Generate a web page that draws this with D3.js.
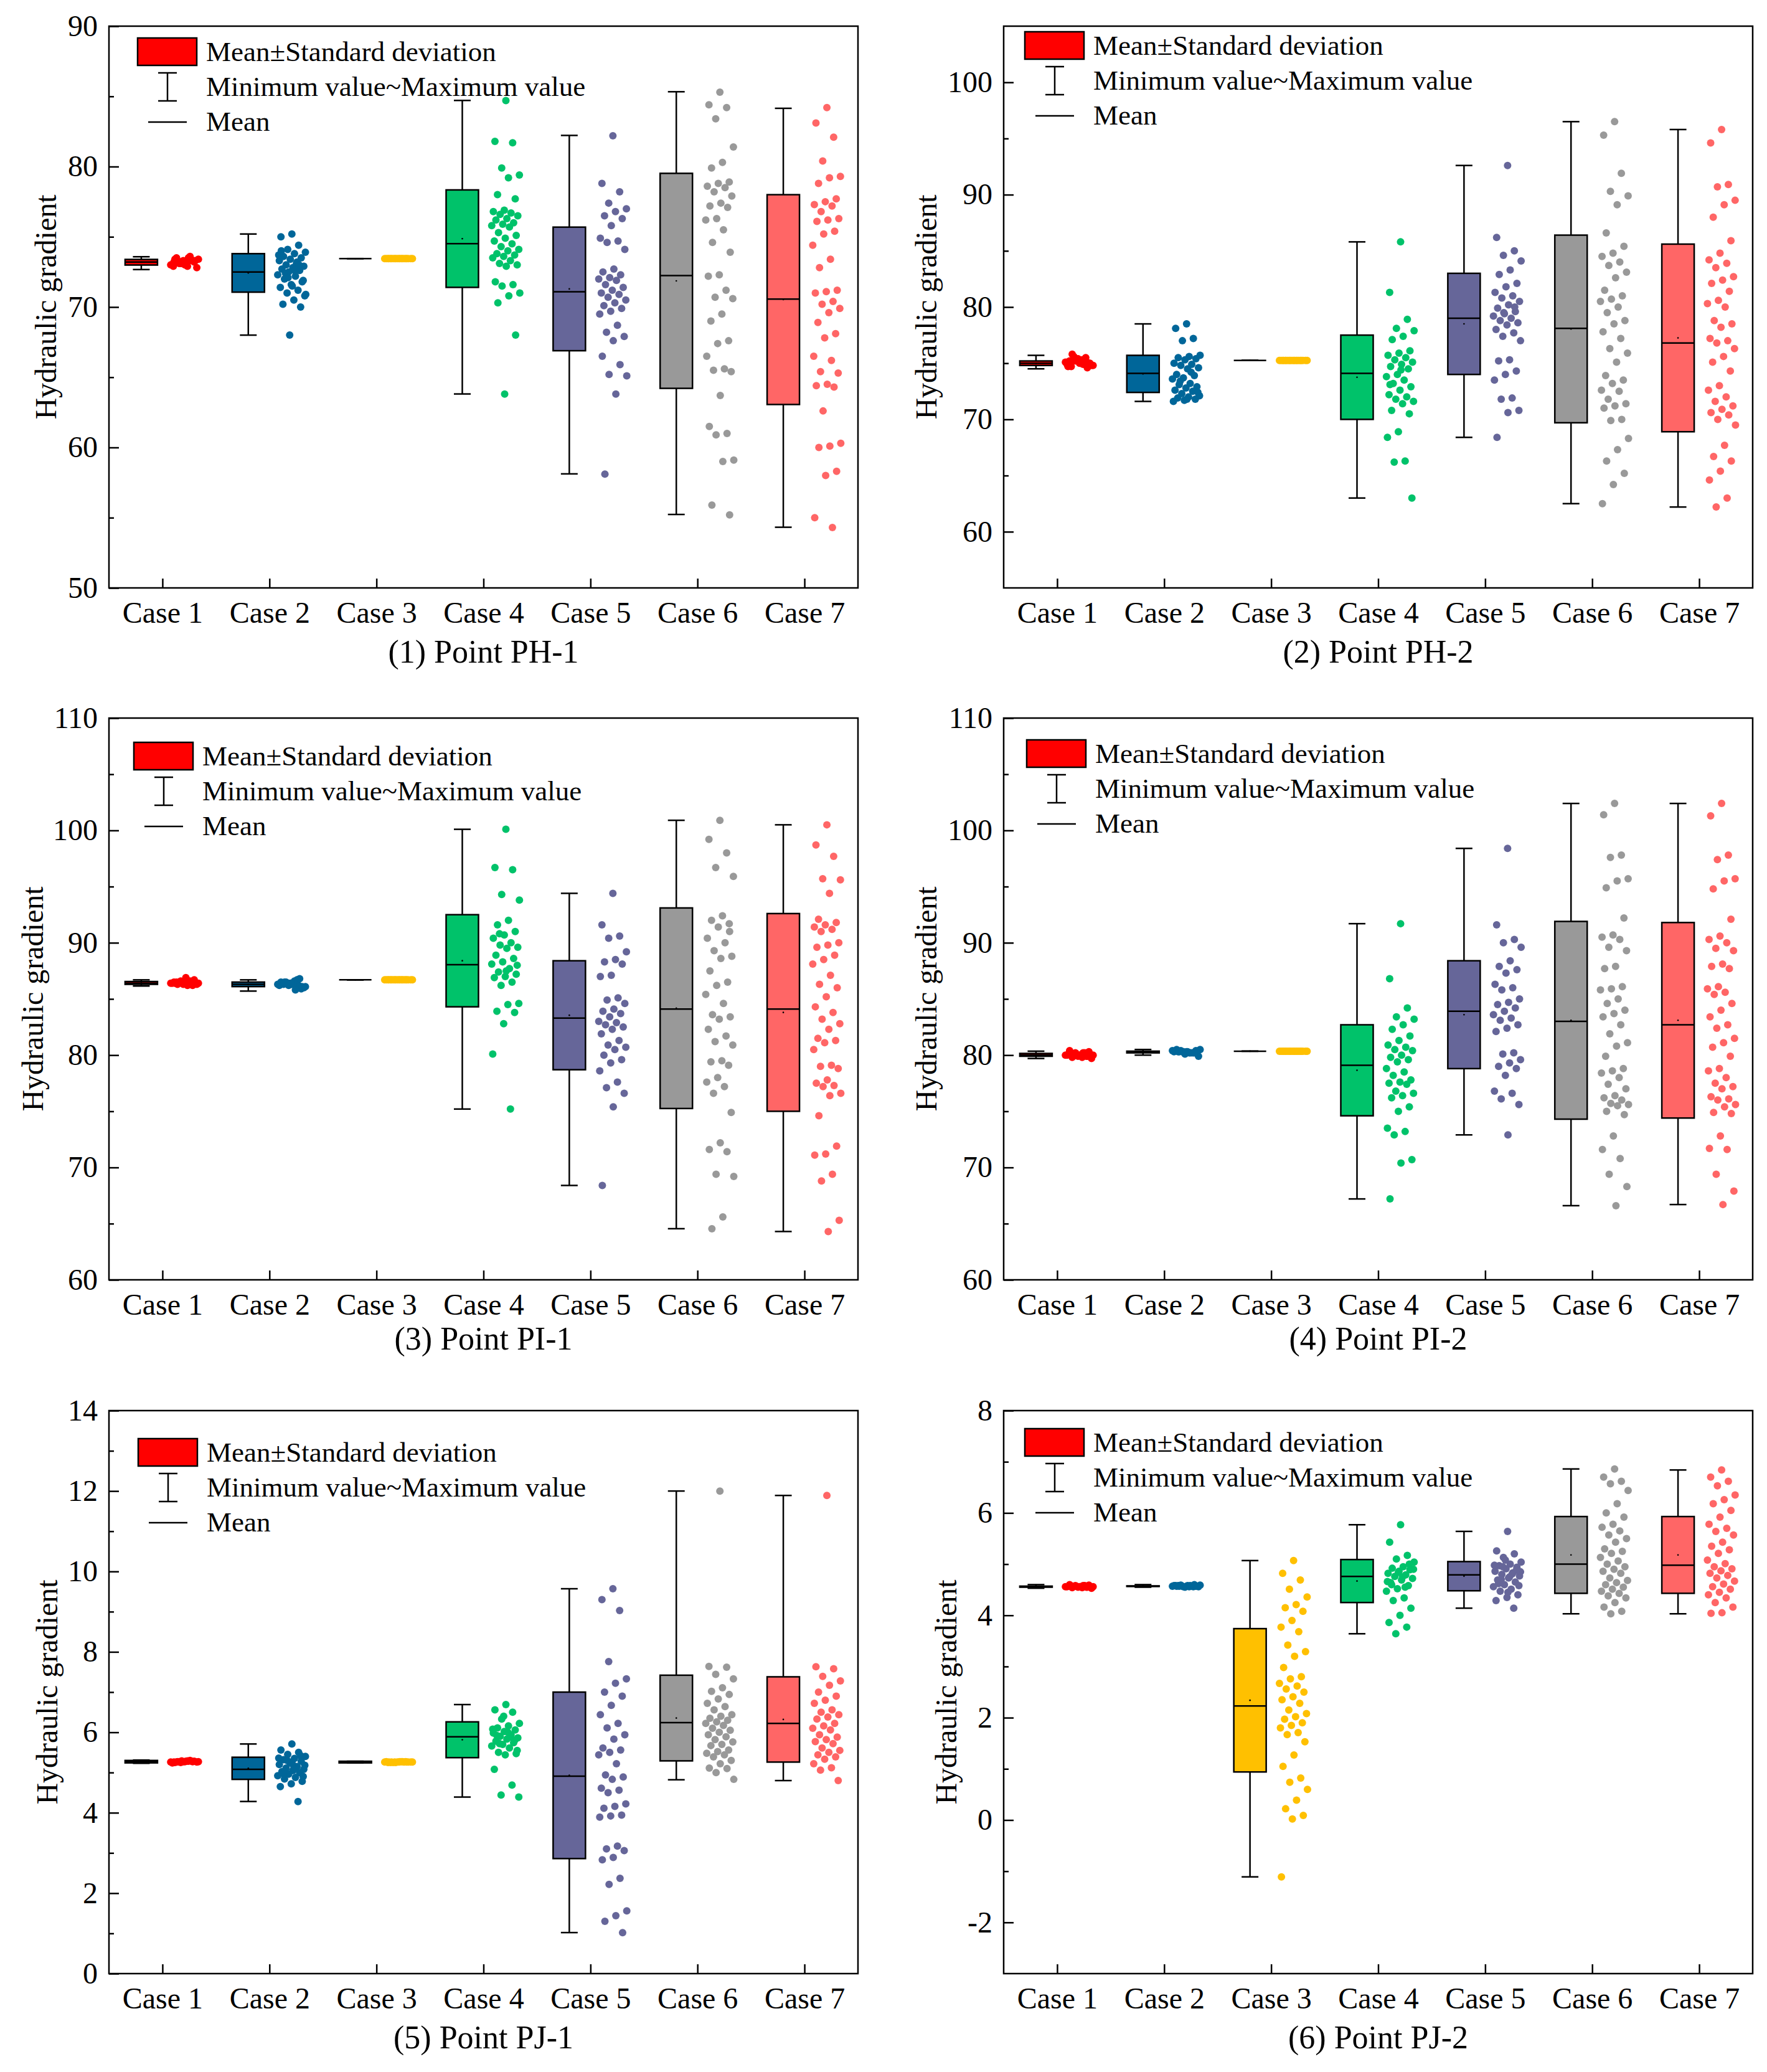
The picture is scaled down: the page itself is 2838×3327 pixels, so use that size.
<!DOCTYPE html>
<html>
<head>
<meta charset="utf-8">
<script src="https://cdn.jsdelivr.net/npm/d3@7"></script>
<style>
  body { margin: 0; background: #fff; }
  text { font-family: "Liberation Serif", "Times New Roman", serif; }
</style>
</head>
<body>
<script>
const cases = ["Case 1", "Case 2", "Case 3", "Case 4", "Case 5", "Case 6", "Case 7"];
const caseColors = ["#FF0000", "#006699", "#FFC000", "#00C26A", "#666699", "#999999", "#FF6666"];
const legendLabels = ["Mean\u00B1Standard deviation", "Minimum value~Maximum value", "Mean"];
const titles = ["(1) Point PH-1", "(2) Point PH-2", "(3) Point PI-1", "(4) Point PI-2", "(5) Point PJ-1", "(6) Point PJ-2"];
const yTitle = "Hydraulic gradient";

// (1) PH-1
const ph1Domain = [50, 90];
const ph1Ticks = [50, 60, 70, 80, 90];
const ph1Minor = [55, 65, 75, 85];
const ph1Low = [72.99, 71.06, 73.45, 71.4, 66.89, 64.21, 63.06];
const ph1High = [73.39, 73.8, 73.45, 78.34, 75.69, 79.52, 78.0];
const ph1Mid = [73.2, 72.5, 73.45, 74.51, 71.09, 72.24, 70.56];
const ph1Min = [72.67, 68.0, 73.45, 63.81, 58.12, 55.23, 54.32];
const ph1Max = [73.58, 75.2, 73.45, 84.71, 82.22, 85.33, 84.15];
const ph1Points = [
  [73.0, 73.2, 73.3, 73.1, 73.4, 72.9, 73.5, 73.2, 73.3, 73.0, 73.6, 73.1, 72.8, 73.2, 73.4, 73.3, 73.1, 73.0, 73.5, 73.2, 73.3, 73.1, 72.9, 73.4, 73.2],
  [75.2, 75.0, 74.4, 74.1, 73.9, 73.8, 73.6, 73.5, 73.4, 73.3, 73.2, 73.0, 72.9, 72.8, 72.7, 72.6, 72.5, 72.3, 72.2, 72.0, 71.8, 71.6, 71.4, 71.2, 71.0, 70.8, 70.5, 70.2, 70.0, 68.0, 73.7, 73.1, 72.4, 71.9, 71.5, 74.0, 73.0, 72.1, 70.9, 72.6],
  [73.45, 73.45, 73.45, 73.45, 73.45, 73.45, 73.45, 73.45, 73.45, 73.45, 73.45, 73.45, 73.45, 73.45, 73.45, 73.45, 73.45, 73.45, 73.45, 73.45],
  [84.7, 81.8, 81.7, 79.9, 79.4, 79.2, 78.0, 77.7, 76.9, 76.8, 76.7, 76.6, 76.5, 76.3, 76.2, 76.0, 75.9, 75.8, 75.7, 75.3, 75.1, 74.9, 74.7, 74.5, 74.3, 74.1, 74.0, 73.8, 73.7, 73.6, 73.5, 73.3, 73.1, 73.0, 72.9, 71.8, 71.6, 71.5, 71.0, 70.8, 70.3, 68.0, 63.8],
  [82.2, 78.8, 78.2, 77.4, 77.0, 76.8, 76.5, 76.3, 75.8, 74.9, 74.7, 74.6, 74.1, 72.7, 72.5, 72.3, 72.1, 72.0, 71.9, 71.6, 71.4, 71.2, 71.0, 70.9, 70.7, 70.5, 70.3, 70.1, 69.9, 69.7, 69.5, 68.7, 68.2, 67.9, 67.6, 66.5, 65.9, 65.2, 65.1, 63.8, 58.1],
  [85.3, 84.4, 84.2, 83.4, 81.4, 80.3, 79.9, 78.9, 78.8, 78.6, 78.5, 78.2, 77.9, 77.4, 77.2, 77.1, 76.3, 76.2, 75.5, 74.6, 73.9, 72.3, 72.2, 71.2, 70.7, 70.6, 69.5, 69.0, 67.6, 67.4, 66.5, 65.6, 65.5, 65.4, 63.7, 61.5, 61.0, 60.9, 59.1, 59.0, 55.9, 55.2],
  [84.2, 83.1, 82.1, 80.4, 79.3, 79.2, 78.8, 77.7, 77.5, 77.3, 77.2, 76.8, 76.3, 76.2, 76.1, 75.4, 75.2, 74.4, 73.4, 72.8, 71.2, 71.1, 71.0, 70.4, 70.2, 69.9, 69.6, 68.9, 68.1, 67.8, 66.5, 66.2, 65.4, 65.3, 64.5, 64.4, 64.3, 62.6, 60.3, 60.1, 60.0, 58.3, 58.0, 55.0, 54.3]
];

// (2) PH-2
const ph2Domain = [55, 105];
const ph2Ticks = [60, 70, 80, 90, 100];
const ph2Minor = [65, 75, 85, 95];
const ph2Low = [74.8, 72.4, 75.25, 70.0, 74.0, 69.7, 68.9];
const ph2High = [75.2, 75.7, 75.25, 77.5, 83.0, 86.4, 85.6];
const ph2Mid = [75.0, 74.1, 75.25, 74.1, 79.0, 78.1, 76.8];
const ph2Min = [74.5, 71.6, 75.25, 63.0, 68.4, 62.5, 62.2];
const ph2Max = [75.7, 78.5, 75.25, 85.8, 92.6, 96.5, 95.8];
const ph2Points = [
  [75.0, 74.9, 75.1, 75.2, 74.8, 75.3, 74.7, 75.0, 75.4, 74.9, 75.1, 75.6, 74.8, 75.0, 75.2, 74.6, 75.3, 75.1, 74.9, 75.8, 75.0, 75.2, 74.7, 75.5],
  [78.5, 78.1, 77.2, 77.0, 75.7, 75.6, 75.5, 75.4, 75.3, 75.0, 74.9, 74.8, 74.6, 74.5, 74.0, 73.9, 73.7, 73.6, 73.2, 73.1, 72.9, 72.8, 72.6, 72.5, 72.3, 72.1, 72.0, 71.9, 71.8, 71.7, 71.6, 74.2, 73.4, 72.4, 71.8],
  [75.25, 75.25, 75.25, 75.25, 75.25, 75.25, 75.25, 75.25, 75.25, 75.25, 75.25, 75.25, 75.25, 75.25, 75.25, 75.25, 75.25, 75.25, 75.25, 75.25],
  [85.8, 81.3, 78.9, 78.1, 77.9, 77.4, 77.1, 76.1, 75.9, 75.7, 75.5, 75.3, 75.1, 74.9, 74.7, 74.5, 74.0, 73.8, 73.5, 73.2, 72.9, 72.6, 72.2, 72.0, 71.8, 71.6, 71.4, 70.8, 70.5, 68.9, 68.4, 66.3, 66.2, 63.0, 74.4, 73.1],
  [92.6, 86.2, 85.0, 84.6, 84.1, 83.3, 82.9, 82.1, 81.8, 81.3, 81.0, 80.8, 80.5, 80.2, 79.9, 79.6, 79.4, 79.2, 79.0, 78.8, 78.6, 78.4, 78.0, 77.7, 77.4, 77.0, 75.3, 75.2, 74.3, 74.0, 73.5, 71.9, 71.8, 70.8, 70.6, 68.4, 80.0, 79.5],
  [96.5, 95.3, 91.9, 90.3, 89.9, 89.1, 86.6, 85.4, 84.8, 84.5, 84.0, 83.7, 83.1, 82.6, 81.5, 81.0, 80.7, 80.5, 80.0, 79.5, 78.8, 78.5, 77.8, 77.2, 76.3, 75.9, 75.1, 73.9, 73.5, 73.2, 72.6, 72.5, 71.8, 71.4, 71.2, 71.0, 70.0, 69.9, 68.3, 67.3, 66.3, 65.2, 64.2, 62.5],
  [95.8, 94.6, 90.9, 90.7, 89.5, 89.1, 88.0, 85.9, 84.8, 84.2, 83.9, 83.5, 82.7, 82.4, 82.1, 81.4, 80.6, 80.3, 80.0, 78.8, 78.5, 78.2, 77.2, 77.0, 76.8, 76.3, 75.6, 75.1, 74.3, 73.0, 72.6, 72.0, 71.6, 71.2, 70.9, 70.6, 70.4, 70.0, 69.5, 67.7, 66.7, 66.3, 65.4, 64.6, 63.0, 62.2]
];

// (3) PI-1
const pi1Domain = [60, 110];
const pi1Ticks = [60, 70, 80, 90, 100, 110];
const pi1Minor = [65, 75, 85, 95, 105];
const pi1Low = [86.3, 86.1, 86.7, 84.3, 78.7, 75.25, 75.0];
const pi1High = [86.55, 86.5, 86.7, 92.5, 88.4, 93.1, 92.6];
const pi1Mid = [86.4, 86.3, 86.7, 88.05, 83.3, 84.1, 84.1];
const pi1Min = [86.15, 85.7, 86.7, 75.2, 68.4, 64.55, 64.3];
const pi1Max = [86.7, 86.7, 86.7, 100.1, 94.4, 100.9, 100.5];
const pi1Points = [
  [86.4, 86.5, 86.3, 86.6, 86.4, 86.2, 86.5, 86.7, 86.3, 86.4, 86.6, 86.5, 86.3, 86.9, 86.4, 86.2, 86.5, 86.4, 86.6, 86.3],
  [86.3, 86.5, 86.2, 86.4, 86.1, 86.6, 86.3, 85.9, 86.4, 86.2, 86.7, 86.5, 86.0, 86.3, 86.4, 86.8, 86.2, 86.3, 85.8, 86.5, 86.1, 86.4],
  [86.7, 86.7, 86.7, 86.7, 86.7, 86.7, 86.7, 86.7, 86.7, 86.7, 86.7, 86.7, 86.7, 86.7, 86.7, 86.7, 86.7, 86.7, 86.7, 86.7],
  [100.1, 96.7, 96.5, 94.3, 93.8, 92.0, 91.6, 91.0, 90.7, 90.4, 90.0, 89.8, 89.6, 89.5, 88.9, 88.6, 88.3, 88.1, 87.7, 87.4, 87.2, 87.0, 86.9, 86.5, 86.2, 84.6, 84.5, 83.9, 83.8, 82.8, 80.1, 75.2, 90.8, 88.0, 87.5],
  [94.4, 91.6, 90.6, 90.4, 89.2, 88.5, 88.3, 88.1, 87.1, 87.0, 85.1, 84.9, 84.6, 84.1, 83.9, 83.7, 83.4, 83.0, 82.9, 82.7, 82.5, 82.3, 81.9, 81.3, 80.9, 80.7, 80.5, 80.0, 79.6, 79.3, 78.6, 77.6, 77.1, 76.6, 75.4, 68.4],
  [100.9, 99.2, 98.0, 96.7, 95.9, 92.4, 92.0, 91.7, 91.4, 90.4, 90.0, 89.3, 88.8, 88.6, 87.5, 86.5, 86.2, 85.4, 84.6, 83.6, 83.4, 83.2, 82.3, 81.7, 81.2, 80.9, 79.5, 79.4, 79.1, 78.0, 77.6, 77.2, 76.6, 74.9, 72.2, 71.6, 71.4, 69.4, 69.2, 65.6, 64.55, 91.0],
  [100.5, 98.7, 97.7, 95.7, 95.6, 94.4, 92.1, 91.8, 91.6, 91.4, 91.2, 91.0, 90.0, 89.8, 89.6, 88.9, 88.5, 88.1, 87.1, 86.3, 86.0, 85.2, 84.3, 83.8, 83.2, 82.8, 82.3, 81.5, 81.3, 81.1, 80.5, 79.1, 79.0, 78.8, 77.8, 77.5, 77.3, 77.2, 76.6, 76.4, 74.6, 71.9, 71.2, 71.1, 69.4, 68.8, 65.3, 64.3]
];

// (4) PI-2
const pi2Domain = [60, 110];
const pi2Ticks = [60, 70, 80, 90, 100, 110];
const pi2Minor = [65, 75, 85, 95, 105];
const pi2Low = [79.9, 80.2, 80.35, 74.6, 78.8, 74.3, 74.4];
const pi2High = [80.15, 80.35, 80.35, 82.7, 88.4, 91.9, 91.8];
const pi2Mid = [80.0, 80.25, 80.35, 79.1, 83.9, 83.0, 82.7];
const pi2Min = [79.7, 80.0, 80.35, 67.2, 72.9, 66.6, 66.7];
const pi2Max = [80.35, 80.5, 80.35, 91.7, 98.4, 102.4, 102.4];
const pi2Points = [
  [80.0, 80.1, 79.9, 80.2, 80.0, 79.8, 80.1, 80.3, 79.9, 80.0, 80.2, 80.1, 79.7, 80.0, 80.4, 79.9, 80.1, 80.0, 80.2, 79.8],
  [80.3, 80.4, 80.2, 80.3, 80.5, 80.2, 80.3, 80.4, 80.1, 80.3, 80.2, 80.4, 79.9, 80.3, 80.5, 80.2, 80.3, 80.4, 80.2, 80.3],
  [80.35, 80.35, 80.35, 80.35, 80.35, 80.35, 80.35, 80.35, 80.35, 80.35, 80.35, 80.35, 80.35, 80.35, 80.35, 80.35, 80.35, 80.35, 80.35, 80.35],
  [91.7, 86.8, 84.2, 83.4, 83.2, 82.7, 82.3, 81.7, 81.3, 80.9, 80.7, 80.5, 80.4, 80.0, 79.8, 79.6, 79.4, 78.8, 78.5, 78.2, 77.8, 77.6, 77.5, 77.4, 76.8, 76.6, 76.4, 76.2, 75.4, 75.0, 73.5, 73.2, 72.9, 70.7, 70.4, 67.2],
  [98.4, 91.6, 90.3, 90.0, 89.6, 88.4, 87.9, 87.6, 87.3, 86.3, 86.0, 85.8, 85.0, 84.7, 84.5, 84.2, 83.9, 83.6, 83.3, 83.1, 82.7, 82.4, 82.1, 80.2, 80.1, 79.6, 79.3, 79.0, 78.8, 78.2, 76.8, 76.6, 76.1, 75.6, 72.9],
  [102.4, 101.4, 97.8, 97.6, 95.7, 95.5, 94.9, 92.2, 90.7, 90.5, 90.3, 89.6, 89.3, 87.9, 87.7, 86.1, 85.9, 85.8, 85.0, 84.6, 84.0, 83.7, 83.4, 82.7, 81.9, 81.1, 80.8, 79.9, 78.8, 78.6, 78.4, 78.0, 77.4, 77.0, 76.4, 76.2, 76.0, 75.7, 75.6, 75.5, 75.0, 74.7, 72.8, 71.6, 70.8, 69.4, 68.3, 66.6],
  [102.4, 101.3, 97.8, 97.4, 95.7, 95.5, 94.8, 92.1, 90.6, 90.3, 90.0, 89.5, 89.3, 88.1, 87.9, 87.7, 86.1, 85.9, 85.6, 85.4, 84.6, 84.0, 83.4, 82.7, 82.4, 81.5, 81.1, 80.7, 79.9, 78.8, 78.6, 78.0, 77.5, 77.2, 77.0, 76.3, 76.1, 76.0, 75.6, 75.4, 74.9, 74.8, 72.8, 71.7, 71.6, 69.4, 67.9, 66.7]
];

// (5) PJ-1
const pj1Domain = [0, 14];
const pj1Ticks = [0, 2, 4, 6, 8, 10, 12, 14];
const pj1Minor = [1, 3, 5, 7, 9, 11, 13];
const pj1Low = [5.24, 4.83, 5.24, 5.37, 2.86, 5.29, 5.26];
const pj1High = [5.30, 5.38, 5.28, 6.26, 7.0, 7.42, 7.38];
const pj1Mid = [5.27, 5.08, 5.26, 5.89, 4.91, 6.24, 6.22];
const pj1Min = [5.23, 4.28, 5.24, 4.39, 1.02, 4.82, 4.80];
const pj1Max = [5.31, 5.71, 5.28, 6.69, 9.57, 12.0, 11.89];
const pj1Points = [
  [5.27, 5.26, 5.28, 5.25, 5.27, 5.29, 5.26, 5.28, 5.27, 5.24, 5.30, 5.27, 5.26, 5.28, 5.25, 5.27, 5.29, 5.26, 5.28, 5.27],
  [5.71, 5.56, 5.50, 5.45, 5.40, 5.35, 5.32, 5.28, 5.24, 5.20, 5.15, 5.11, 5.08, 5.05, 5.02, 5.00, 4.96, 4.92, 4.88, 4.84, 4.78, 4.72, 4.65, 4.28, 5.30, 5.18, 5.10, 4.98, 5.42, 5.26, 5.36, 5.13, 5.06, 4.90, 5.22],
  [5.26, 5.25, 5.27, 5.26, 5.26, 5.27, 5.25, 5.26, 5.26, 5.27, 5.26, 5.25, 5.26, 5.27, 5.26, 5.26, 5.25, 5.26, 5.27, 5.26],
  [6.69, 6.56, 6.50, 6.33, 6.22, 6.16, 6.11, 6.06, 6.02, 5.98, 5.94, 5.90, 5.86, 5.83, 5.78, 5.74, 5.70, 5.66, 5.61, 5.50, 5.47, 5.44, 5.08, 4.69, 4.44, 4.39, 6.00, 5.92, 5.80, 6.40, 6.08, 5.88, 5.72, 5.55],
  [9.57, 9.30, 9.03, 7.76, 7.33, 7.22, 7.00, 6.90, 6.67, 6.44, 6.22, 6.11, 5.94, 5.83, 5.61, 5.56, 5.50, 5.44, 5.22, 4.94, 4.89, 4.83, 4.61, 4.56, 4.50, 4.22, 4.16, 4.11, 3.94, 3.92, 3.89, 3.17, 3.10, 3.06, 2.89, 2.83, 2.37, 2.22, 1.56, 1.44, 1.30, 1.02],
  [12.0, 7.64, 7.62, 7.44, 7.33, 7.11, 7.02, 6.94, 6.83, 6.72, 6.64, 6.56, 6.44, 6.40, 6.35, 6.30, 6.26, 6.22, 6.17, 6.10, 6.05, 6.00, 5.94, 5.89, 5.82, 5.76, 5.70, 5.67, 5.56, 5.52, 5.48, 5.44, 5.39, 5.30, 5.22, 5.11, 5.10, 5.00, 4.83],
  [11.89, 7.63, 7.58, 7.39, 7.28, 7.17, 7.00, 6.90, 6.80, 6.72, 6.56, 6.50, 6.44, 6.38, 6.33, 6.22, 6.16, 6.10, 6.06, 5.94, 5.88, 5.82, 5.77, 5.72, 5.61, 5.55, 5.50, 5.44, 5.39, 5.33, 5.22, 5.12, 5.06, 4.80]
];

// (6) PJ-2
const pj2Domain = [-3, 8];
const pj2Ticks = [-2, 0, 2, 4, 6, 8];
const pj2Minor = [-1, 1, 3, 5, 7];
const pj2Low = [4.55, 4.565, 0.94, 4.25, 4.48, 4.43, 4.43];
const pj2High = [4.57, 4.575, 3.74, 5.09, 5.05, 5.93, 5.93];
const pj2Mid = [4.56, 4.57, 2.23, 4.76, 4.79, 5.0, 4.98];
const pj2Min = [4.53, 4.55, -1.11, 3.64, 4.14, 4.03, 4.03];
const pj2Max = [4.60, 4.60, 5.07, 5.77, 5.64, 6.86, 6.84];
const pj2Points = [
  [4.56, 4.57, 4.55, 4.58, 4.56, 4.54, 4.57, 4.59, 4.55, 4.56, 4.58, 4.57, 4.53, 4.56, 4.60, 4.55, 4.57, 4.56, 4.58, 4.54],
  [4.57, 4.58, 4.56, 4.57, 4.59, 4.56, 4.58, 4.57, 4.55, 4.58, 4.57, 4.59, 4.56, 4.58, 4.57, 4.60, 4.56, 4.57, 4.58, 4.57],
  [5.07, 4.82, 4.69, 4.51, 4.36, 4.21, 4.15, 4.08, 3.90, 3.77, 3.68, 3.42, 3.29, 3.20, 2.98, 2.80, 2.76, 2.67, 2.62, 2.56, 2.50, 2.41, 2.35, 2.28, 2.15, 2.08, 2.02, 1.97, 1.90, 1.85, 1.80, 1.71, 1.67, 1.53, 1.27, 1.05, 0.82, 0.74, 0.60, 0.39, 0.22, 0.09, 0.02, -1.11],
  [5.77, 5.43, 5.17, 5.10, 5.04, 4.95, 4.92, 4.89, 4.86, 4.82, 4.79, 4.76, 4.72, 4.69, 4.64, 4.58, 4.52, 4.47, 4.34, 4.29, 4.14, 4.00, 3.86, 3.77, 3.64, 4.90, 4.75, 4.60, 5.00, 4.84, 4.66, 4.55],
  [5.64, 5.26, 5.20, 5.13, 5.04, 5.00, 4.97, 4.94, 4.91, 4.86, 4.83, 4.80, 4.77, 4.73, 4.69, 4.65, 4.60, 4.56, 4.51, 4.47, 4.40, 4.35, 4.29, 4.14, 4.95, 4.85, 4.75, 4.62, 4.88, 5.08, 4.98, 4.81, 4.70, 4.58, 4.45],
  [6.86, 6.70, 6.62, 6.57, 6.44, 6.18, 6.00, 5.92, 5.78, 5.72, 5.65, 5.57, 5.50, 5.43, 5.30, 5.25, 5.21, 5.13, 5.06, 5.00, 4.95, 4.90, 4.86, 4.82, 4.73, 4.68, 4.64, 4.60, 4.55, 4.51, 4.47, 4.43, 4.38, 4.34, 4.25, 4.16, 4.08, 4.03],
  [6.84, 6.70, 6.62, 6.53, 6.35, 6.26, 6.18, 6.05, 5.92, 5.78, 5.70, 5.64, 5.57, 5.43, 5.35, 5.28, 5.21, 5.08, 5.01, 4.95, 4.91, 4.87, 4.82, 4.78, 4.73, 4.67, 4.61, 4.56, 4.51, 4.45, 4.40, 4.34, 4.25, 4.16, 4.05, 4.04]
];

let width = 2838;
let height = 3327;
let colX = [175, 1612];
let rowY = [42, 1153, 2265];
let rowH = [902, 902, 904];
let plotW = 1203;
let font = "'Liberation Serif', 'Times New Roman', serif";

// layout per panel: column, row, y-title offset, legend x / first baseline
let panels = [
  { title: titles[0], domain: ph1Domain, ticks: ph1Ticks, minor: ph1Minor, low: ph1Low, high: ph1High, mid: ph1Mid, min: ph1Min, max: ph1Max, points: ph1Points, col: 0, row: 0, yLab: -102, legX: 46, legY: 56 },
  { title: titles[1], domain: ph2Domain, ticks: ph2Ticks, minor: ph2Minor, low: ph2Low, high: ph2High, mid: ph2Mid, min: ph2Min, max: ph2Max, points: ph2Points, col: 1, row: 0, yLab: -125, legX: 34, legY: 46 },
  { title: titles[2], domain: pi1Domain, ticks: pi1Ticks, minor: pi1Minor, low: pi1Low, high: pi1High, mid: pi1Mid, min: pi1Min, max: pi1Max, points: pi1Points, col: 0, row: 1, yLab: -123, legX: 40, legY: 76 },
  { title: titles[3], domain: pi2Domain, ticks: pi2Ticks, minor: pi2Minor, low: pi2Low, high: pi2High, mid: pi2Mid, min: pi2Min, max: pi2Max, points: pi2Points, col: 1, row: 1, yLab: -125, legX: 37, legY: 72 },
  { title: titles[4], domain: pj1Domain, ticks: pj1Ticks, minor: pj1Minor, low: pj1Low, high: pj1High, mid: pj1Mid, min: pj1Min, max: pj1Max, points: pj1Points, col: 0, row: 2, yLab: -100, legX: 47, legY: 82 },
  { title: titles[5], domain: pj2Domain, ticks: pj2Ticks, minor: pj2Minor, low: pj2Low, high: pj2High, mid: pj2Mid, min: pj2Min, max: pj2Max, points: pj2Points, col: 1, row: 2, yLab: -93, legX: 34, legY: 66 }
];

let svg = d3
  .select("body")
  .append("svg")
  .attr("width", width)
  .attr("height", height)
  .attr("viewBox", `0 0 ${width} ${height}`);

svg.append("rect").attr("width", width).attr("height", height).attr("fill", "#fff");

// golden-ratio jitter so the dots spread sideways without randomness
function jitter(j) {
  return (((j * 0.618034 + 0.5) % 1) - 0.5) * 46;
}

for (let p of panels) {
  let h = rowH[p.row];
  let g = svg
    .append("g")
    .attr("transform", `translate(${colX[p.col]},${rowY[p.row]})`);

  let x = d3.scalePoint().domain(cases).range([0, plotW]).padding(0.5);
  let y = d3.scaleLinear().domain(p.domain).range([h, 0]);

  let boxOff = -34;
  let boxW = 52;
  let dotOff = 36;

  let stats = cases.map((c, i) => ({
    c: c,
    i: i,
    low: p.low[i],
    high: p.high[i],
    mid: p.mid[i],
    min: p.min[i],
    max: p.max[i]
  }));

  // whiskers
  let wg = g.append("g").attr("stroke", "#000").attr("stroke-width", 2.5);
  wg.selectAll(".wtop")
    .data(stats)
    .join("line")
    .attr("x1", (d) => x(d.c) + boxOff)
    .attr("x2", (d) => x(d.c) + boxOff)
    .attr("y1", (d) => y(d.max))
    .attr("y2", (d) => y(d.high));
  wg.selectAll(".wbot")
    .data(stats)
    .join("line")
    .attr("x1", (d) => x(d.c) + boxOff)
    .attr("x2", (d) => x(d.c) + boxOff)
    .attr("y1", (d) => y(d.low))
    .attr("y2", (d) => y(d.min));
  wg.selectAll(".capTop")
    .data(stats)
    .join("line")
    .attr("x1", (d) => x(d.c) + boxOff - 13.5)
    .attr("x2", (d) => x(d.c) + boxOff + 13.5)
    .attr("y1", (d) => y(d.max))
    .attr("y2", (d) => y(d.max));
  wg.selectAll(".capBot")
    .data(stats)
    .join("line")
    .attr("x1", (d) => x(d.c) + boxOff - 13.5)
    .attr("x2", (d) => x(d.c) + boxOff + 13.5)
    .attr("y1", (d) => y(d.min))
    .attr("y2", (d) => y(d.min));

  // boxes: mean ± sd
  g.append("g")
    .selectAll("rect")
    .data(stats)
    .join("rect")
    .attr("x", (d) => x(d.c) + boxOff - boxW / 2)
    .attr("y", (d) => y(d.high))
    .attr("width", boxW)
    .attr("height", (d) => y(d.low) - y(d.high))
    .attr("fill", (d) => caseColors[d.i])
    .attr("stroke", "#000")
    .attr("stroke-width", 2.5);

  g.append("g")
    .selectAll("line")
    .data(stats)
    .join("line")
    .attr("x1", (d) => x(d.c) + boxOff - boxW / 2)
    .attr("x2", (d) => x(d.c) + boxOff + boxW / 2)
    .attr("y1", (d) => y(d.mid))
    .attr("y2", (d) => y(d.mid))
    .attr("stroke", "#000")
    .attr("stroke-width", 2.5);

  g.append("g")
    .selectAll("circle")
    .data(stats)
    .join("circle")
    .attr("cx", (d) => x(d.c) + boxOff)
    .attr("cy", (d) => y((d.low + d.high) / 2))
    .attr("r", 1.3)
    .attr("fill", "#000");

  // raw points beside each box
  let pts = [];
  p.points.forEach((arr, i) => {
    arr.forEach((v, j) => pts.push({ c: cases[i], i: i, v: v, j: j }));
  });
  g.append("g")
    .selectAll("circle")
    .data(pts)
    .join("circle")
    .attr("cx", (d) => x(d.c) + dotOff + jitter(d.j))
    .attr("cy", (d) => y(d.v))
    .attr("r", 6)
    .attr("fill", (d) => caseColors[d.i]);

  // axes
  let xAxis = g
    .append("g")
    .attr("transform", `translate(0,${h})`)
    .call(d3.axisBottom(x).tickSizeInner(-15).tickSizeOuter(0).tickPadding(22));
  let yAxis = g
    .append("g")
    .call(
      d3.axisLeft(y)
        .tickValues(p.ticks)
        .tickSizeInner(-16)
        .tickSizeOuter(0)
        .tickPadding(18)
        .tickFormat((d) => String(d))
    );
  let yMinor = g
    .append("g")
    .call(d3.axisLeft(y).tickValues(p.minor).tickSizeInner(-8).tickSizeOuter(0).tickFormat(""));

  for (let ax of [xAxis, yAxis, yMinor]) {
    ax.select(".domain").remove();
    ax.selectAll(".tick line").attr("stroke", "#000").attr("stroke-width", 2.5);
    ax.selectAll("text")
      .attr("font-size", 48)
      .attr("font-family", font)
      .attr("fill", "#000");
  }

  g.append("rect")
    .attr("width", plotW)
    .attr("height", h)
    .attr("fill", "none")
    .attr("stroke", "#000")
    .attr("stroke-width", 2.5);

  g.append("text")
    .attr("transform", `translate(${p.yLab},${h / 2}) rotate(-90)`)
    .attr("dy", "0.35em")
    .attr("text-anchor", "middle")
    .attr("font-size", 48)
    .attr("font-family", font)
    .text(yTitle);

  g.append("text")
    .attr("x", plotW / 2)
    .attr("y", h + (p.row == 1 ? 112 : 120))
    .attr("text-anchor", "middle")
    .attr("font-size", 52)
    .attr("font-family", font)
    .text(p.title);

  // legend
  let lx = p.legX;
  let ly = p.legY;
  let sx = lx + 48;
  g.append("rect")
    .attr("x", lx)
    .attr("y", ly - 37)
    .attr("width", 95)
    .attr("height", 44)
    .attr("fill", "#FF0000")
    .attr("stroke", "#000")
    .attr("stroke-width", 2.5);
  let y2 = ly + 56;
  let lg = g.append("g").attr("stroke", "#000").attr("stroke-width", 2.5);
  lg.append("line").attr("x1", sx).attr("x2", sx).attr("y1", y2 - 37).attr("y2", y2 + 8);
  lg.append("line").attr("x1", sx - 15).attr("x2", sx + 15).attr("y1", y2 - 37).attr("y2", y2 - 37);
  lg.append("line").attr("x1", sx - 15).attr("x2", sx + 15).attr("y1", y2 + 8).attr("y2", y2 + 8);
  let y3 = ly + 112;
  lg.append("line").attr("x1", lx + 17).attr("x2", lx + 79).attr("y1", y3 - 14).attr("y2", y3 - 14);

  legendLabels.forEach((t, k) => {
    g.append("text")
      .attr("x", lx + 110)
      .attr("y", ly + k * 56)
      .attr("font-size", 45)
      .attr("font-family", font)
      .text(t);
  });
}
</script>
</body>
</html>
